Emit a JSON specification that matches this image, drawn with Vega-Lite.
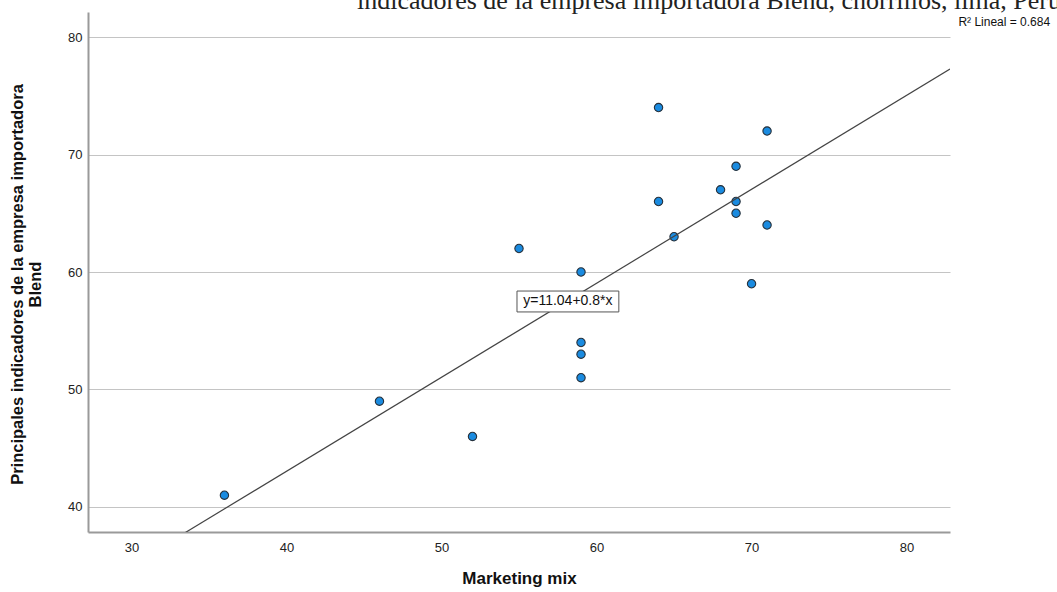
{
  "$schema": "https://vega.github.io/schema/vega-lite/v6.json",
  "autosize": {"type": "none"},
  "width": 862,
  "height": 520,
  "padding": {"left": 88, "top": 12, "right": 107, "bottom": 60},
  "background": "white",
  "title": {
    "text": "indicadores de la empresa importadora Blend, chorrillos, lima, Perú",
    "anchor": "start",
    "frame": "group",
    "orient": "top",
    "offset": 0,
    "dx": 269,
    "dy": 23,
    "baseline": "alphabetic",
    "font": "Liberation Serif",
    "fontSize": 26,
    "fontWeight": "normal",
    "color": "#222222"
  },
  "config": {
    "view": {"stroke": null},
    "font": "Liberation Sans",
    "axis": {
      "domainColor": "#9a9a9a",
      "domainWidth": 2,
      "ticks": false,
      "labelFont": "Liberation Sans",
      "labelFontSize": 13,
      "labelColor": "#222222",
      "titleFont": "Liberation Sans",
      "titleFontSize": 16,
      "titleFontWeight": "bold",
      "titleColor": "#111111",
      "gridColor": "#c4c4c4",
      "gridWidth": 1
    }
  },
  "datasets": {
    "obs": [
      {"mk": 36, "ind": 41},
      {"mk": 46, "ind": 49},
      {"mk": 52, "ind": 46},
      {"mk": 55, "ind": 62},
      {"mk": 59, "ind": 60},
      {"mk": 59, "ind": 54},
      {"mk": 59, "ind": 53},
      {"mk": 59, "ind": 51},
      {"mk": 64, "ind": 74},
      {"mk": 64, "ind": 66},
      {"mk": 65, "ind": 63},
      {"mk": 68, "ind": 67},
      {"mk": 69, "ind": 69},
      {"mk": 69, "ind": 66},
      {"mk": 69, "ind": 65},
      {"mk": 70, "ind": 59},
      {"mk": 71, "ind": 72},
      {"mk": 71, "ind": 64}
    ],
    "fit": [
      {"mk": 27.2, "ind": 32.8},
      {"mk": 82.8, "ind": 77.28}
    ],
    "eqBox": [
      {"x0": 54.87, "x1": 61.44, "y0": 56.6, "y1": 58.38, "mk": 58.15, "ind": 57.49, "label": "y=11.04+0.8*x"}
    ],
    "r2": [
      {"mk": 86.3, "ind": 81.3, "label": "R² Lineal = 0.684"}
    ]
  },
  "layer": [
    {
      "data": {"name": "obs"},
      "mark": {"type": "point", "filled": true, "size": 70, "fill": "#1a8be0", "stroke": "#26303a", "strokeWidth": 1.1, "opacity": 1},
      "encoding": {
        "x": {
          "field": "mk",
          "type": "quantitative",
          "scale": {"domain": [27.2, 82.8], "nice": false, "zero": false},
          "axis": {"values": [30, 40, 50, 60, 70, 80], "grid": false, "labelPadding": 9, "title": "Marketing mix", "titleFontSize": 17, "titlePadding": 16}
        },
        "y": {
          "field": "ind",
          "type": "quantitative",
          "scale": {"domain": [37.87, 82.13], "nice": false, "zero": false},
          "axis": {"values": [40, 50, 60, 70, 80], "grid": true, "labelPadding": 6, "title": ["Principales indicadores de la empresa importadora", "Blend"], "titleFontSize": 16.5, "titlePadding": 24, "titleLineHeight": 18, "titleY": 272}
        }
      }
    },
    {
      "data": {"name": "fit"},
      "mark": {"type": "line", "color": "#444444", "strokeWidth": 1.2, "clip": true},
      "encoding": {
        "x": {"field": "mk", "type": "quantitative"},
        "y": {"field": "ind", "type": "quantitative"}
      }
    },
    {
      "data": {"name": "eqBox"},
      "mark": {"type": "rect", "fill": "white", "stroke": "#555555", "strokeWidth": 1},
      "encoding": {
        "x": {"field": "x0", "type": "quantitative"},
        "x2": {"field": "x1"},
        "y": {"field": "y0", "type": "quantitative"},
        "y2": {"field": "y1"}
      }
    },
    {
      "data": {"name": "eqBox"},
      "mark": {"type": "text", "font": "Liberation Sans", "fontSize": 14, "color": "#111111", "align": "center", "baseline": "middle"},
      "encoding": {
        "x": {"field": "mk", "type": "quantitative"},
        "y": {"field": "ind", "type": "quantitative"},
        "text": {"field": "label"}
      }
    },
    {
      "data": {"name": "r2"},
      "mark": {"type": "text", "font": "Liberation Sans", "fontSize": 12, "color": "#111111", "align": "center", "baseline": "middle", "clip": false},
      "encoding": {
        "x": {"field": "mk", "type": "quantitative"},
        "y": {"field": "ind", "type": "quantitative"},
        "text": {"field": "label"}
      }
    }
  ]
}
